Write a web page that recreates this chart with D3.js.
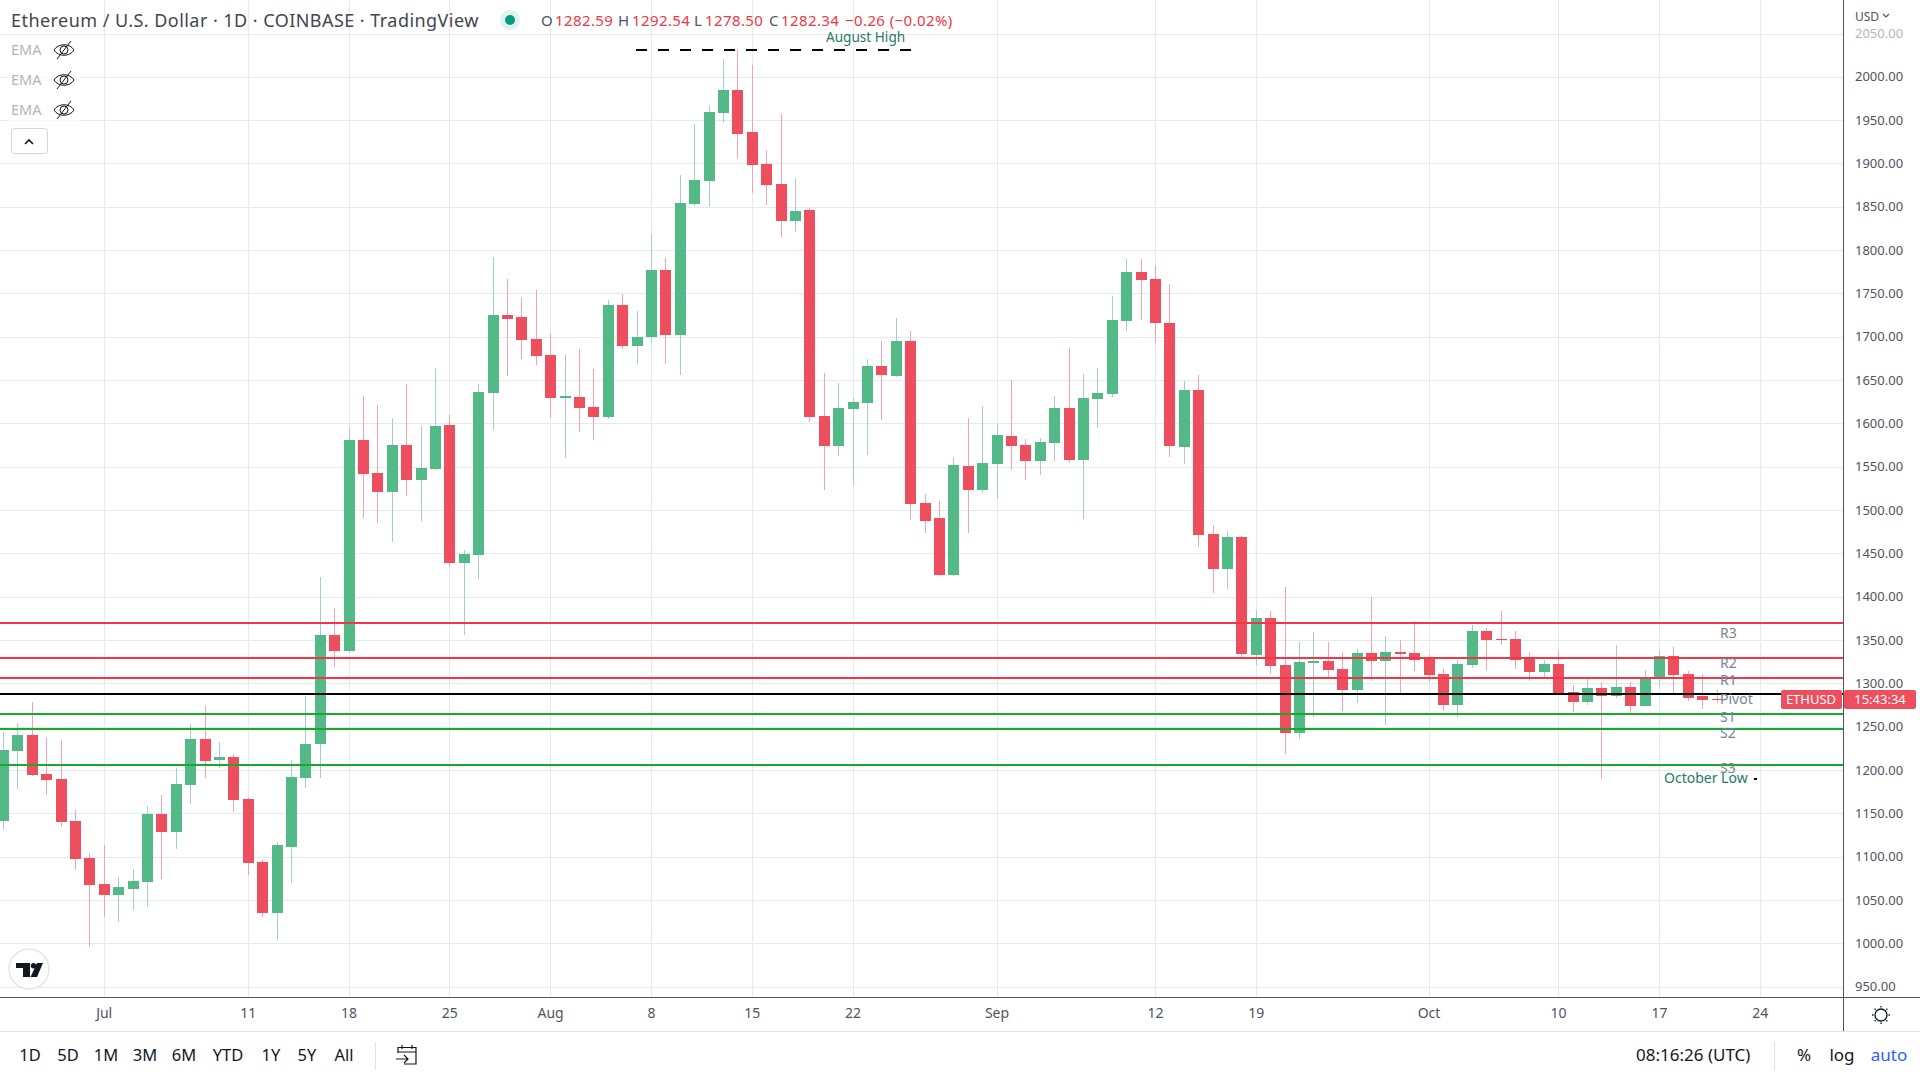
<!DOCTYPE html>
<html lang="en">
<head>
    <meta charset="UTF-8">
    <script src="https://d3js.org/d3.v7.min.js"></script>
    <style>
        body { margin: 0; background: #fff; }
        text { font-family: "Noto Sans", Lato, sans-serif; }
    </style>
</head>
<body>
    <svg id="chart" width="1920" height="1080"></svg>
    <script>
        // Daily candles, first one on 24 Jun 2022
        const firstDay = new Date(Date.UTC(2022, 5, 24));
        const opens = [
            1142.3, 1223, 1241.5, 1196.5, 1190.8, 1142.3, 1099.6,
            1069.6, 1056.9, 1063.8, 1071.9, 1150.4, 1129.6, 1183.8, 1236.9, 1212.7, 1216.2,
            1167.7, 1095, 1036.2, 1112.3, 1191.9, 1230.4, 1356, 1337.7, 1581, 1543,
            1521, 1575.4, 1535, 1547.7, 1598.5, 1439.2, 1448.5, 1635.4, 1725.4, 1723, 1697.7,
            1679.2, 1629.6, 1630.8, 1619.2, 1607.7, 1737, 1689.6, 1700.4, 1777.7, 1702.7,
            1853.8, 1880.4, 1958.8, 1985.4, 1937, 1900, 1877, 1834, 1846.9, 1609.2,
            1574.6, 1617.3, 1624.2, 1667, 1655.4, 1695.8, 1508.8, 1491.5, 1426, 1551.9, 1524.2,
            1554.2, 1586.5, 1576, 1557.7, 1578.5, 1618.8, 1558.8, 1629, 1635, 1719,
            1775.8, 1767.7, 1717, 1573.8, 1639.6, 1473.5, 1433, 1470, 1333.8, 1376.5,
            1322.3, 1243.8, 1324.6, 1326.9, 1317.7, 1293.5, 1336, 1326.9, 1337.3, 1336,
            1329.2, 1312, 1276, 1322.3, 1361.5, 1352.3, 1352.3, 1331.5, 1314.2, 1323.5,
            1290.4, 1279.2, 1295.4, 1286, 1296.5, 1274.6, 1307, 1332.3, 1311.5, 1286, 1282.59
        ];
        const highs = [
            1245, 1255.4, 1279.6, 1238, 1235.8, 1155, 1105.4,
            1114.6, 1077.7, 1087, 1159.6, 1172.3, 1203.5, 1254.2, 1275, 1233.5, 1219.6,
            1170, 1097.3, 1118, 1212.7, 1286.5, 1423, 1387.3, 1597, 1632, 1621.5,
            1606.5, 1645.8, 1597.3, 1664.2, 1610, 1454.2, 1645.8, 1792.3, 1766.9, 1745, 1754.2,
            1704.6, 1679.2, 1686, 1663, 1742.7, 1749.6, 1730, 1819, 1791.5, 1887,
            1946, 1967, 2021, 2031.5, 2014, 1916, 1957.7, 1884, 1849.2, 1658.8,
            1647.3, 1630, 1675, 1695.8, 1722.3, 1707.3, 1519, 1511, 1560.8, 1607.3, 1621,
            1600.4, 1651, 1583, 1584, 1632.7, 1688, 1658, 1665, 1748, 1790.8,
            1790.8, 1783.8, 1762, 1650, 1657, 1483.8, 1477, 1471, 1385, 1384.6,
            1412.3, 1348.8, 1360.4, 1348.8, 1337.3, 1340.8, 1400.8, 1355.8, 1351, 1373,
            1333.8, 1317.7, 1328, 1368.5, 1365, 1384.6, 1361.5, 1337.3, 1328, 1338.5,
            1298.4, 1307, 1302.3, 1345, 1302.3, 1316, 1339.2, 1342.7, 1315, 1311.5, 1292.54
        ];
        const lows = [
            1131, 1179, 1194, 1172, 1135.4, 1085.8, 997,
            1031.5, 1025.8, 1039.6, 1043, 1075.4, 1110, 1161.9, 1191.9, 1203.5, 1152.7,
            1080, 1031.5, 1005, 1070.8, 1180.4, 1191.5, 1320, 1335.4, 1492, 1485.4,
            1463.5, 1516.5, 1487.7, 1546.5, 1434.6, 1356, 1420.8, 1592.7, 1655, 1675, 1667.7,
            1606.5, 1560.4, 1590.4, 1581, 1605.4, 1686, 1668.8, 1693.5, 1669.2, 1656.5,
            1851.5, 1850.4, 1947.3, 1907, 1866.5, 1852.7, 1815.8, 1821.5, 1602.3, 1523.8,
            1563, 1529.6, 1564.2, 1604.6, 1654.2, 1489, 1474, 1425, 1424.7, 1474.6, 1520,
            1513.8, 1547.3, 1535.8, 1541.5, 1557.7, 1555.4, 1490.8, 1595.8, 1631.5, 1707.7,
            1720.4, 1693.8, 1562.3, 1554.2, 1458.5, 1405.4, 1410, 1330, 1322, 1312,
            1219.6, 1236.9, 1262.3, 1306, 1269.2, 1278.5, 1303.8, 1253, 1288.8, 1315.4,
            1302.7, 1269.2, 1262.3, 1318.8, 1316.5, 1345.4, 1317.7, 1303.8, 1307.3, 1288,
            1267.4, 1275.8, 1190.4, 1283.8, 1266.5, 1274.6, 1296.5, 1289.6, 1280.4, 1271, 1278.5
        ];
        const closes = [
            1224, 1241.5, 1195.4, 1189.6, 1141, 1098.5, 1068.5,
            1056.9, 1066.2, 1073, 1150.4, 1129.6, 1185, 1236.9, 1211.5, 1216.2, 1166.5,
            1093.8, 1036.2, 1114.6, 1193, 1231.2, 1356, 1337.7, 1581, 1542, 1521,
            1575.4, 1535, 1548.8, 1597.3, 1439.2, 1449.6, 1636.5, 1725.4, 1720.8, 1696.5, 1678,
            1629.6, 1631.9, 1618, 1607.7, 1737, 1689.6, 1700, 1777.7, 1702.7, 1855,
            1881.5, 1960, 1985.4, 1934.6, 1899, 1875.8, 1834, 1845.8, 1608, 1574.6,
            1618.5, 1625.4, 1667, 1656.5, 1695.8, 1507.7, 1488, 1426, 1552.7, 1524.2, 1555.4,
            1587.7, 1575, 1557.7, 1579.6, 1618.8, 1558.8, 1630.4, 1636, 1720.4, 1775.8,
            1766.5, 1717, 1575, 1639.6, 1472.3, 1433, 1470, 1334.6, 1376.5, 1321,
            1243.8, 1325.8, 1326.9, 1316.5, 1293.5, 1336, 1326.9, 1337.3, 1335, 1328,
            1310.8, 1276, 1323.5, 1361.5, 1351, 1351, 1328, 1314.2, 1323.5, 1288.8,
            1279, 1295.4, 1286, 1296.5, 1274.6, 1305.8, 1332.3, 1310.4, 1283.8, 1281.5, 1282.34
        ];

        // Axis ticks
        const priceTicks = [950, 1000, 1050, 1100, 1150, 1200, 1250, 1300, 1350, 1400, 1450, 1500,
            1550, 1600, 1650, 1700, 1750, 1800, 1850, 1900, 1950, 2000, 2050];
        const timeTicks = ["2022-07-01", "2022-07-11", "2022-07-18", "2022-07-25", "2022-08-01",
            "2022-08-08", "2022-08-15", "2022-08-22", "2022-09-01", "2022-09-12", "2022-09-19",
            "2022-10-01", "2022-10-10", "2022-10-17", "2022-10-24"];
        const timeLabels = ["Jul", "11", "18", "25", "Aug", "8", "15", "22", "Sep", "12", "19", "Oct", "10", "17", "24"];

        // Pivot levels
        const levelNames = ["R3", "R2", "R1", "Pivot", "S1", "S2", "S3"];
        const levelPrices = [1369.8, 1330, 1307, 1287.9, 1264.8, 1248, 1206.5];
        const levelColors = ["#f23645", "#f23645", "#f23645", "#000000", "#18a92a", "#18a92a", "#18a92a"];

        const rangeButtons = ["1D", "5D", "1M", "3M", "6M", "YTD", "1Y", "5Y", "All"];

        const augustHigh = 2031.5, octoberLow = 1190.4;

        const width = 1920, height = 1080;
        const plotRight = 1843, plotBottom = 997;
        const upColor = "#53b987", downColor = "#ee4f5e";
        const upWick = "#a6cccf", downWick = "#f7a3af";
        const gridColor = "#e1ecf2", axisColor = "#50535e";

        const svg = d3.select("#chart");

        svg.append("rect").attr("width", width).attr("height", height).attr("fill", "#fff");

        const x = d3.scaleUtc()
            .domain([new Date(Date.UTC(2022, 6, 1)), new Date(Date.UTC(2022, 9, 24))])
            .range([104.2, 1760.2]);
        const y = d3.scaleLinear()
            .domain([2050, 950])
            .range([34, 987.3]);

        const candles = opens.map((o, i) => ({
            date: d3.utcDay.offset(firstDay, i),
            open: o, high: highs[i], low: lows[i], close: closes[i]
        }));

        // Grid
        const grid = svg.append("g").attr("shape-rendering", "crispEdges").attr("stroke", gridColor);
        grid.selectAll(".h").data(priceTicks).enter().append("line")
            .attr("x1", 0).attr("x2", plotRight)
            .attr("y1", d => Math.floor(y(d)) + 0.5).attr("y2", d => Math.floor(y(d)) + 0.5);
        grid.selectAll(".v").data(timeTicks).enter().append("line")
            .attr("y1", 0).attr("y2", plotBottom)
            .attr("x1", d => Math.floor(x(new Date(d))) + 0.5).attr("x2", d => Math.floor(x(new Date(d))) + 0.5);

        // Candles
        const candle = svg.append("g").attr("shape-rendering", "crispEdges")
            .selectAll("g").data(candles).enter().append("g");
        candle.append("rect")
            .attr("x", d => Math.floor(x(d.date)))
            .attr("y", d => Math.round(y(d.high)))
            .attr("width", 1)
            .attr("height", d => Math.round(y(d.low)) - Math.round(y(d.high)))
            .attr("fill", d => d.close >= d.open ? upWick : downWick);
        candle.append("rect")
            .attr("x", d => Math.floor(x(d.date)) - 5)
            .attr("y", d => Math.round(y(Math.max(d.open, d.close))))
            .attr("width", 11)
            .attr("height", d => Math.max(1, Math.round(y(Math.min(d.open, d.close))) - Math.round(y(Math.max(d.open, d.close)))))
            .attr("fill", d => d.close >= d.open ? upColor : downColor);

        // Pivot lines, on top of the candles
        svg.append("g").attr("shape-rendering", "crispEdges")
            .selectAll("line").data(levelPrices).enter().append("line")
            .attr("x1", 0).attr("x2", plotRight)
            .attr("y1", d => y(d)).attr("y2", d => y(d))
            .attr("stroke", (d, i) => levelColors[i])
            .attr("stroke-width", 2);

        svg.append("g").selectAll("text").data(levelPrices).enter().append("text")
            .attr("x", 1720)
            .attr("y", (d, i) => y(d) + [15, 10, 7, 9.5, 7.5, 9, 7.5][i])
            .attr("fill", "#758696")
            .style("font-size", "14px")
            .text((d, i) => levelNames[i]);

        // August high / October low drawings
        svg.append("line")
            .attr("x1", 636).attr("x2", 911)
            .attr("y1", y(augustHigh)).attr("y2", y(augustHigh))
            .attr("stroke", "#000").attr("stroke-width", 2)
            .attr("stroke-dasharray", "11 11");
        svg.append("line")
            .attr("x1", 1754).attr("x2", 1757)
            .attr("y1", y(octoberLow)).attr("y2", y(octoberLow))
            .attr("stroke", "#000").attr("stroke-width", 2);
        svg.append("text").attr("x", 826).attr("y", 42)
            .attr("fill", "#1f7a66").style("font-size", "13.6px").text("August High");
        svg.append("text").attr("x", 1664).attr("y", 783)
            .attr("fill", "#1f7a66").style("font-size", "14px").text("October Low");

        // Axis frames
        svg.append("rect").attr("x", plotRight + 1).attr("y", 0).attr("width", width - plotRight).attr("height", plotBottom).attr("fill", "#fff");
        svg.append("rect").attr("x", 0).attr("y", plotBottom).attr("width", width).attr("height", height - plotBottom).attr("fill", "#fff");
        const frame = svg.append("g").attr("shape-rendering", "crispEdges").attr("stroke", axisColor);
        frame.append("line").attr("x1", plotRight + 0.5).attr("x2", plotRight + 0.5).attr("y1", 0).attr("y2", 1031);
        frame.append("line").attr("x1", 0).attr("x2", width).attr("y1", plotBottom + 0.5).attr("y2", plotBottom + 0.5);
        frame.append("line").attr("x1", 0).attr("x2", width).attr("y1", 1031.5).attr("y2", 1031.5).attr("stroke", "#e0e3eb");
        frame.append("line").attr("x1", 375.5).attr("x2", 375.5).attr("y1", 1042).attr("y2", 1070).attr("stroke", "#e0e3eb");
        frame.append("line").attr("x1", 1774.5).attr("x2", 1774.5).attr("y1", 1042).attr("y2", 1070).attr("stroke", "#e0e3eb");

        // Price axis
        svg.append("g").selectAll("text").data(priceTicks).enter().append("text")
            .attr("x", 1855)
            .attr("y", d => y(d) + 4)
            .attr("fill", d => d === 2050 ? "#b2b5be" : axisColor)
            .style("font-size", "13px")
            .text(d => d.toFixed(2));
        svg.append("text").attr("x", 1855).attr("y", 21).attr("fill", axisColor)
            .style("font-size", "12px").text("USD");
        svg.append("path").attr("d", "M1883 14l3 3 3-3").attr("fill", "none").attr("stroke", axisColor).attr("stroke-width", 1.2);

        // Time axis
        svg.append("g").selectAll("text").data(timeTicks).enter().append("text")
            .attr("x", d => x(new Date(d)))
            .attr("y", 1018)
            .attr("text-anchor", "middle")
            .attr("fill", axisColor)
            .style("font-size", "14px")
            .text((d, i) => timeLabels[i]);

        // Price tag for the last close
        svg.append("rect").attr("x", 1781).attr("y", 690).attr("width", 61).attr("height", 19).attr("rx", 2).attr("fill", downColor);
        svg.append("rect").attr("x", 1844).attr("y", 690).attr("width", 72).attr("height", 19).attr("rx", 2).attr("fill", downColor);
        svg.append("text").attr("x", 1811).attr("y", 704).attr("text-anchor", "middle").attr("fill", "#fff")
            .style("font-size", "13px").text("ETHUSD");
        svg.append("text").attr("x", 1880).attr("y", 704).attr("text-anchor", "middle").attr("fill", "#fff")
            .style("font-size", "13px").text("15:43:34");

        // Header
        svg.append("text").attr("x", 11).attr("y", 27).attr("fill", "#434651")
            .style("font-size", "18px").style("letter-spacing", "0.45px")
            .text("Ethereum / U.S. Dollar · 1D · COINBASE · TradingView");
        svg.append("circle").attr("cx", 510).attr("cy", 20).attr("r", 10).attr("fill", "#e0f2ee");
        svg.append("circle").attr("cx", 510).attr("cy", 20).attr("r", 5).attr("fill", "#089981");

        const ohlcNames = ["O", "H", "L", "C"];
        const ohlcValues = ["1282.59", "1292.54", "1278.50", "1282.34"];
        const ohlcNameX = [541, 618, 694, 769];
        const ohlcValueX = [555, 632, 705, 781];
        ohlcNames.forEach((n, i) => {
            svg.append("text").attr("x", ohlcNameX[i]).attr("y", 26).attr("fill", axisColor).style("font-size", "15px").text(n);
            svg.append("text").attr("x", ohlcValueX[i]).attr("y", 26).attr("fill", "#f23645")
                .style("font-size", "15px").style("letter-spacing", "0.4px").text(ohlcValues[i]);
        });
        svg.append("text").attr("x", 845).attr("y", 26).attr("fill", "#f23645")
            .style("font-size", "15px").style("letter-spacing", "0.4px").text("−0.26 (−0.02%)");

        // Hidden EMA rows
        [50, 80, 110].forEach(rowY => {
            svg.append("rect").attr("x", 8).attr("y", rowY - 12).attr("width", 72).attr("height", 24).attr("fill", "#fff").attr("opacity", 0.7);
            svg.append("text").attr("x", 11).attr("y", rowY + 5).attr("fill", "#b2b5be").style("font-size", "14.5px").text("EMA");
            const eye = svg.append("g").attr("transform", `translate(64,${rowY})`)
                .attr("fill", "none").attr("stroke", "#131722").attr("stroke-width", 1);
            eye.append("path").attr("d", "M-10 0C-6 -7 6 -7 10 0C6 7 -6 7 -10 0Z");
            eye.append("circle").attr("r", 4);
            eye.append("path").attr("d", "M7 -9L-7 9");
        });
        svg.append("rect").attr("x", 11.5).attr("y", 128.5).attr("width", 36).attr("height", 25).attr("rx", 3)
            .attr("fill", "#fff").attr("stroke", "#d1d4dc");
        svg.append("path").attr("d", "M25 144l4-4 4 4").attr("fill", "none").attr("stroke", "#131722").attr("stroke-width", 1.6);

        // TradingView badge
        svg.append("circle").attr("cx", 29).attr("cy", 969).attr("r", 20).attr("fill", "#fff").attr("stroke", "#e6e6e6").attr("stroke-width", 1.5);
        svg.append("path").attr("d", "M16 963H30V977H23V968H16Z").attr("fill", "#131722");
        svg.append("circle").attr("cx", 33.5).attr("cy", 965.7).attr("r", 2.7).attr("fill", "#131722");
        svg.append("path").attr("d", "M37 963H43L37 977H30.5Z").attr("fill", "#131722");

        // Bottom toolbar
        const rangeButtonX = [30, 68, 106, 145, 184, 228, 271, 307, 344];
        svg.append("g").selectAll("text").data(rangeButtons).enter().append("text")
            .attr("x", (d, i) => rangeButtonX[i])
            .attr("y", 1061)
            .attr("text-anchor", "middle")
            .attr("fill", "#131722")
            .style("font-size", "16.5px")
            .text(d => d);

        const cal = svg.append("g").attr("transform", "translate(407,1055)")
            .attr("fill", "none").attr("stroke", "#131722").attr("stroke-width", 1.2);
        cal.append("path").attr("d", "M-9 -2V-7.5H9V9H-3");
        cal.append("path").attr("d", "M-9 -3H9M-5 -10V-6M5 -10V-6");
        cal.append("path").attr("d", "M-11 4H1M-3 0L1 4L-3 8");

        svg.append("text").attr("x", 1636).attr("y", 1061).attr("fill", "#131722")
            .style("font-size", "17px").text("08:16:26 (UTC)");
        svg.append("text").attr("x", 1804).attr("y", 1061).attr("text-anchor", "middle").attr("fill", "#131722")
            .style("font-size", "17px").text("%");
        svg.append("text").attr("x", 1842).attr("y", 1061).attr("text-anchor", "middle").attr("fill", "#131722")
            .style("font-size", "17px").text("log");
        svg.append("text").attr("x", 1889).attr("y", 1061).attr("text-anchor", "middle").attr("fill", "#2962ff")
            .style("font-size", "17px").text("auto");

        // Theme switch
        const sun = svg.append("g").attr("transform", "translate(1881,1015)")
            .attr("fill", "none").attr("stroke", "#131722").attr("stroke-width", 1.3);
        sun.append("circle").attr("r", 6);
        d3.range(8).forEach(i => {
            const a = i * Math.PI / 4;
            sun.append("line")
                .attr("x1", 7.5 * Math.cos(a)).attr("y1", 7.5 * Math.sin(a))
                .attr("x2", 9 * Math.cos(a)).attr("y2", 9 * Math.sin(a));
        });
    </script>
</body>
</html>
